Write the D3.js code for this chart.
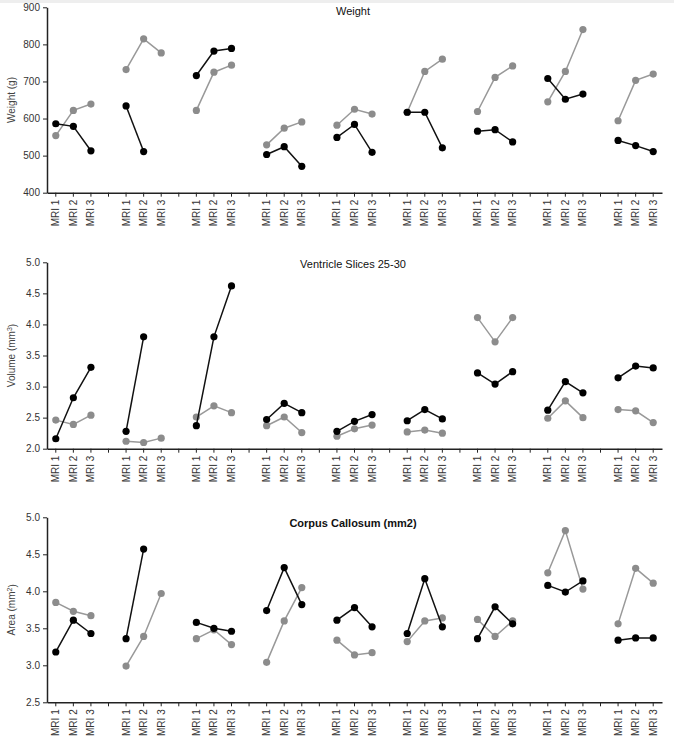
<!DOCTYPE html>
<html lang="en">
<head>
    <meta charset="UTF-8">
    <title>MRI panels</title>
    <script src="https://d3js.org/d3.v7.min.js"></script>
    <style>
        body { margin: 0; background: #fff; }
        svg { display: block; font-family: "Liberation Sans", Arial, sans-serif; }
        .axis path, .axis line { stroke: #222; }
        .axis text { fill: #333; font-size: 10px; }
        .ylabel { fill: #444; font-size: 10px; }
        .title { fill: #111; font-size: 11px; }
    </style>
</head>
<body>
    <svg width="674" height="743"></svg>
    <script>
        // x categories: 9 animals x 3 scans, gap slot between animals
        const scans = ["MRI 1", "MRI 2", "MRI 3"];
        const nGroups = 9;

        // Weight (g), black and grey series, one row per animal
        const weightBlack = [
            [586, 579, 513], [634, 511, null], [716, 782, 789],
            [503, 524, 471], [549, 584, 509], [617, 617, 521],
            [566, 570, 537], [708, 652, 666], [541, 527, 511]
        ];
        const weightGray = [
            [554, 622, 639], [732, 815, 777], [622, 725, 744],
            [529, 574, 591], [582, 625, 612], [617, 727, 760],
            [619, 711, 742], [645, 727, 840], [594, 703, 720]
        ];

        // Ventricle volume (mm3)
        const ventBlack = [
            [2.16, 2.82, 3.31], [2.28, 3.80, null], [2.37, 3.80, 4.62],
            [2.47, 2.73, 2.58], [2.28, 2.44, 2.55], [2.45, 2.63, 2.48],
            [3.22, 3.04, 3.24], [2.62, 3.08, 2.90], [3.14, 3.33, 3.30]
        ];
        const ventGray = [
            [2.46, 2.39, 2.54], [2.12, 2.10, 2.17], [2.51, 2.69, 2.58],
            [2.37, 2.51, 2.26], [2.20, 2.32, 2.38], [2.27, 2.30, 2.25],
            [4.11, 3.72, 4.11], [2.49, 2.77, 2.50], [2.63, 2.61, 2.42]
        ];

        // Corpus callosum area (mm2)
        const ccBlack = [
            [3.18, 3.61, 3.43], [3.36, 4.57, null], [3.58, 3.50, 3.46],
            [3.74, 4.32, 3.82], [3.61, 3.78, 3.52], [3.43, 4.17, 3.52],
            [3.36, 3.79, 3.56], [4.08, 3.99, 4.14], [3.34, 3.37, 3.37]
        ];
        const ccGray = [
            [3.85, 3.73, 3.67], [2.99, 3.39, 3.97], [3.36, 3.48, 3.28],
            [3.04, 3.60, 4.05], [3.34, 3.14, 3.17], [3.32, 3.60, 3.64],
            [3.62, 3.39, 3.60], [4.25, 4.82, 4.03], [3.56, 4.31, 4.11]
        ];

        const panels = [
            { title: "Weight", bold: false, ylabel: ["Weight (g)"], domain: [400, 900], ticks: d3.range(400, 901, 100),
              fmt: d3.format("d"), black: weightBlack, gray: weightGray, top: 7.3, bottom: 192.7, titleY: 15 },
            { title: "Ventricle Slices 25-30", bold: false, ylabel: ["Volume (mm", "3", ")"], domain: [2, 5], ticks: d3.range(2, 5.01, 0.5),
              fmt: d3.format(".1f"), black: ventBlack, gray: ventGray, top: 262.3, bottom: 448.7, titleY: 268 },
            { title: "Corpus Callosum (mm2)", bold: true, ylabel: ["Area (mm", "2", ")"], domain: [2.5, 5], ticks: d3.range(2.5, 5.01, 0.5),
              fmt: d3.format(".1f"), black: ccBlack, gray: ccGray, top: 517.3, bottom: 702.3, titleY: 526.5 }
        ];

        // build slot keys
        const slots = [];
        for (let g = 0; g < nGroups; g++) {
            scans.forEach((s, i) => slots.push({ key: g + "-" + i, label: s }));
            if (g < nGroups - 1) slots.push({ key: "gap" + g, label: "" });
        }
        const labelOf = {};
        slots.forEach(s => labelOf[s.key] = s.label);

        const svg = d3.select("svg");

        // light strip at top of original
        svg.append("rect").attr("x", 0).attr("y", 0).attr("width", 674).attr("height", 3).attr("fill", "#eeeeee");

        const x = d3.scaleBand()
            .domain(slots.map(s => s.key))
            .range([47, 662])
            .padding(0);
        const cx = (g, i) => x(g + "-" + i) + x.bandwidth() / 2;

        panels.forEach(p => {
            const y = d3.scaleLinear().domain(p.domain).range([p.bottom, p.top]);
            const gp = svg.append("g");

            gp.append("g")
                .attr("class", "axis")
                .attr("transform", "translate(47,0)")
                .call(d3.axisLeft(y).tickValues(p.ticks).tickFormat(p.fmt).tickSize(4).tickSizeOuter(0))
                .call(g => g.select(".domain").attr("stroke-width", 1.5));

            const xa = gp.append("g")
                .attr("class", "axis")
                .attr("transform", "translate(0," + p.bottom + ")")
                .call(d3.axisBottom(x).tickFormat(k => labelOf[k]).tickSize(4).tickSizeOuter(0))
                .call(g => g.select(".domain").attr("stroke-width", 1.5));
            xa.selectAll("text")
                .attr("transform", "rotate(-90)")
                .attr("text-anchor", "end")
                .attr("x", -7)
                .attr("y", 0)
                .attr("dy", "0.35em");

            // y label
            const yl = gp.append("text")
                .attr("class", "ylabel")
                .attr("transform", "translate(15," + ((p.top + p.bottom) / 2) + ") rotate(-90)")
                .attr("text-anchor", "middle");
            yl.append("tspan").text(p.ylabel[0]);
            if (p.ylabel.length > 1) {
                yl.append("tspan").attr("dy", "-0.4em").attr("font-size", "7px").text(p.ylabel[1]);
                yl.append("tspan").attr("dy", "0.4em").text(p.ylabel[2]);
            }

            gp.append("text")
                .attr("class", "title")
                .attr("x", 353)
                .attr("y", p.titleY)
                .attr("text-anchor", "middle")
                .attr("font-weight", p.bold ? "bold" : "normal")
                .text(p.title);

            const line = d3.line()
                .defined(d => d.v != null)
                .x(d => cx(d.g, d.i))
                .y(d => y(d.v));

            const series = [
                { data: p.gray, stroke: "#999999", fill: "#8c8c8c" },
                { data: p.black, stroke: "#111111", fill: "#000000" }
            ];
            series.forEach(s => {
                s.data.forEach((row, g) => {
                    const pts = row.map((v, i) => ({ g, i, v }));
                    gp.append("path")
                        .datum(pts)
                        .attr("fill", "none")
                        .attr("stroke", s.stroke)
                        .attr("stroke-width", 1.5)
                        .attr("d", line);
                    gp.selectAll(null)
                        .data(pts.filter(d => d.v != null))
                        .enter().append("circle")
                        .attr("cx", d => cx(d.g, d.i))
                        .attr("cy", d => y(d.v))
                        .attr("r", 3.6)
                        .attr("fill", s.fill);
                });
            });
        });
    </script>
</body>
</html>
